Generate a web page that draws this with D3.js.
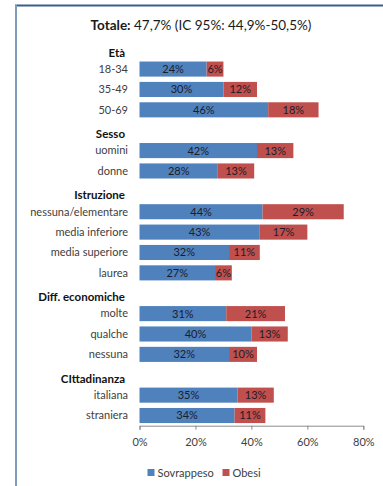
<!DOCTYPE html>
<html>
<head>
<meta charset="utf-8">
<script src="https://cdn.jsdelivr.net/npm/d3@7"></script>
<style>
  body { margin: 0; background: #fff; }
  svg { display: block; font-family: Lato, "Open Sans", sans-serif; }
</style>
</head>
<body>
<div id="chart"></div>
<script>
const groups = ["Età", "Sesso", "Istruzione", "Diff. economiche", "CIttadinanza"]
const categories = ["18-34", "35-49", "50-69", "uomini", "donne", "nessuna/elementare", "media inferiore",
  "media superiore", "laurea", "molte", "qualche", "nessuna", "italiana", "straniera"]
const groupOf = [0, 0, 0, 1, 1, 2, 2, 2, 2, 3, 3, 3, 4, 4]
const sovrappeso = [24, 30, 46, 42, 28, 44, 43, 32, 27, 31, 40, 32, 35, 34]
const obesi = [6, 12, 18, 13, 13, 29, 17, 11, 6, 21, 13, 10, 13, 11]
const xTicks = [0, 20, 40, 60, 80]
const seriesNames = ["Sovrappeso", "Obesi"]
const colors = ["#4F81BD", "#C0504D"]

const width = 383
const height = 486

const svg = d3.select("#chart").append("svg")
  .attr("width", width)
  .attr("height", height)

// frame
svg.append("line").attr("x1", 15).attr("x2", width).attr("y1", 5.5).attr("y2", 5.5)
  .attr("stroke", "#3A5F8B").attr("stroke-width", 2)
svg.append("line").attr("x1", 16).attr("x2", 16).attr("y1", 5).attr("y2", height)
  .attr("stroke", "#7F9CBC").attr("stroke-width", 2)

// title
const title = svg.append("text")
  .attr("x", 201).attr("y", 29.5)
  .attr("text-anchor", "middle")
  .style("font-size", "13.5px").attr("fill", "#1a1a1a")
title.append("tspan").style("font-weight", "bold").text("Totale:")
title.append("tspan").text(" 47,7% (IC 95%: 44,9%-50,5%)")

// rows: one header row per group, then its categories
const rows = []
groups.forEach(function(g, gi) {
  rows.push({ key: "h" + gi, label: g, header: true })
  categories.forEach(function(c, i) {
    if (groupOf[i] === gi) rows.push({ key: "c" + i, label: c, header: false, i: i })
  })
})

const x = d3.scaleLinear().domain([0, 80]).range([139.5, 363.3])
const y = d3.scaleBand()
  .domain(rows.map(function(d) { return d.key }))
  .range([38.5, 425.7])
  .paddingInner(0.26)
  .paddingOuter(0.13)

// axis
const axis = svg.append("g")
  .attr("transform", "translate(0," + 425.7 + ")")
  .call(d3.axisBottom(x).tickValues(xTicks).tickFormat(function(d) { return d + "%" }).tickSize(4).tickPadding(9))
axis.select(".domain").attr("stroke", "#8c8c8c")
axis.selectAll(".tick line").attr("stroke", "#8c8c8c")
axis.selectAll("text").style("font-size", "11px").attr("fill", "#404040").style("font-family", "Lato, sans-serif")

// labels
svg.selectAll(".rowlabel")
  .data(rows)
  .enter()
  .append("text")
  .attr("class", "rowlabel")
  .attr("x", function(d) { return d.header ? 125 : 128 })
  .attr("y", function(d) { return y(d.key) + y.bandwidth() / 2 + (d.header ? 4 : 0) })
  .attr("dy", "0.35em")
  .attr("text-anchor", "end")
  .style("font-size", function(d) { return d.header ? "11.5px" : "11px" })
  .style("font-weight", function(d) { return d.header ? "bold" : "normal" })
  .attr("fill", function(d) { return d.header ? "#111" : "#404040" })
  .text(function(d) { return d.label })

const items = rows.filter(function(d) { return !d.header })

// stacked segments
const segs = []
items.forEach(function(d) {
  segs.push({ key: d.key, s: 0, x0: 0, x1: sovrappeso[d.i], v: sovrappeso[d.i] })
  segs.push({ key: d.key, s: 1, x0: sovrappeso[d.i], x1: sovrappeso[d.i] + obesi[d.i], v: obesi[d.i] })
})

svg.selectAll("rect.seg")
  .data(segs)
  .enter()
  .append("rect")
  .attr("class", "seg")
  .attr("x", function(d) { return x(d.x0) })
  .attr("y", function(d) { return y(d.key) })
  .attr("width", function(d) { return x(d.x1) - x(d.x0) })
  .attr("height", y.bandwidth())
  .attr("fill", function(d) { return colors[d.s] })

svg.selectAll("text.val")
  .data(segs)
  .enter()
  .append("text")
  .attr("class", "val")
  .attr("x", function(d) { return (x(d.x0) + x(d.x1)) / 2 })
  .attr("y", function(d) { return y(d.key) + y.bandwidth() / 2 })
  .attr("dy", "0.36em")
  .attr("text-anchor", "middle")
  .style("font-size", "11px")
  .attr("fill", "#1c1c2a")
  .text(function(d) { return d.v + "%" })

// legend
const legX = [147.5, 222.5]
const legend = svg.selectAll(".leg")
  .data(seriesNames)
  .enter()
  .append("g")
  .attr("class", "leg")
  .attr("transform", function(d, i) { return "translate(" + legX[i] + ",469)" })
legend.append("rect").attr("width", 7).attr("height", 7)
  .attr("fill", function(d, i) { return colors[i] })
legend.append("text").attr("x", 10).attr("y", 4).attr("dy", "0.35em")
  .style("font-size", "11px").attr("fill", "#404040")
  .text(function(d) { return d })
</script>
</body>
</html>
